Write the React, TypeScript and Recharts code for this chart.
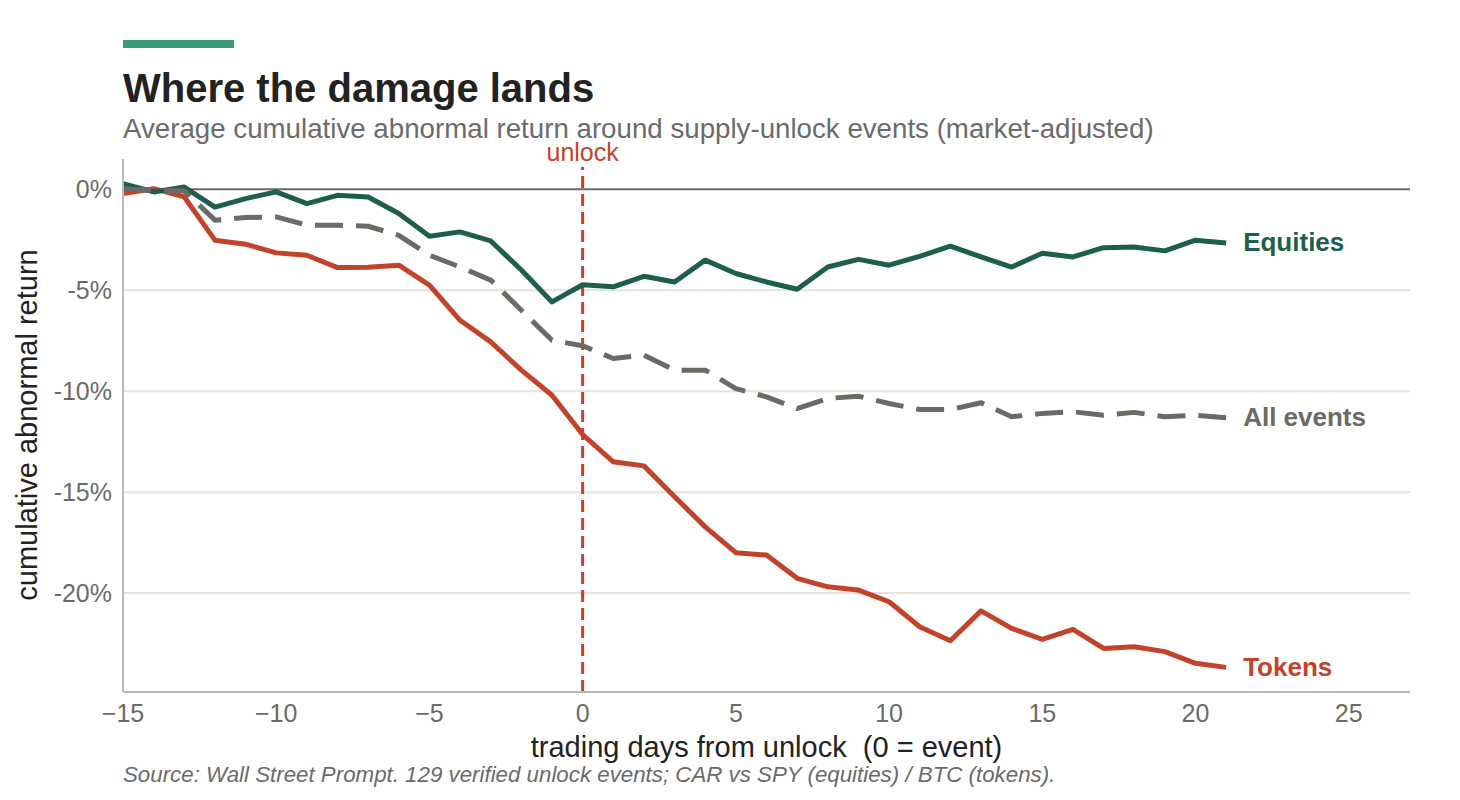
import { LineChart, Line, XAxis, YAxis, ReferenceLine, LabelList } from 'recharts'

const days = [
  -15, -14, -13, -12, -11, -10, -9, -8, -7, -6, -5, -4, -3, -2, -1, 0, 1, 2, 3, 4, 5, 6, 7, 8, 9, 10, 11, 12,
  13, 14, 15, 16, 17, 18, 19, 20, 21,
]

const equities = [
  0.28, -0.13, 0.11, -0.88, -0.46, -0.13, -0.71, -0.3, -0.38, -1.2, -2.33, -2.11, -2.56, -4.0, -5.58, -4.73,
  -4.83, -4.31, -4.59, -3.51, -4.17, -4.59, -4.95, -3.85, -3.47, -3.76, -3.32, -2.82, -3.35, -3.85, -3.17,
  -3.35, -2.89, -2.86, -3.05, -2.52, -2.66,
]

const allEvents = [
  0.03, -0.05, -0.08, -1.53, -1.4, -1.37, -1.78, -1.78, -1.83, -2.28, -3.27, -3.85, -4.5, -5.99, -7.48, -7.75,
  -8.38, -8.22, -8.96, -8.96, -9.87, -10.28, -10.86, -10.36, -10.25, -10.61, -10.91, -10.91, -10.57, -11.27,
  -11.1, -11.02, -11.19, -11.05, -11.27, -11.19, -11.32,
]

const tokens = [
  -0.21, 0.03, -0.38, -2.52, -2.72, -3.15, -3.27, -3.88, -3.86, -3.76, -4.75, -6.49, -7.56, -8.96, -10.2, -12.15,
  -13.5, -13.7, -15.23, -16.72, -18.0, -18.12, -19.27, -19.69, -19.85, -20.43, -21.67, -22.36, -20.88, -21.75,
  -22.29, -21.8, -22.74, -22.66, -22.9, -23.48, -23.68,
]

const xTicks = [-15, -10, -5, 0, 5, 10, 15, 20, 25]
const yTicks = [-20, -15, -10, -5, 0]

const GREEN = '#1e5e4c'
const RED = '#c3432a'
const GRAY = '#6b6a64'
const FONT = '"Liberation Sans", Arial, Helvetica, sans-serif'

const data = days.map((d, i) => ({
  day: d,
  equities: equities[i],
  allEvents: allEvents[i],
  tokens: tokens[i],
}))

const lastIndex = days.length - 1

function endLabel(text: string, color: string) {
  return (props: any) => {
    if (props.index !== lastIndex) return null
    return (
      <text
        x={Number(props.x) + 17}
        y={Number(props.y) - 1}
        dy="0.36em"
        fill={color}
        fontSize={26}
        fontWeight={700}
        fontFamily={FONT}
      >
        {text}
      </text>
    )
  }
}

// label sits above the dashed line; a small white patch keeps the line from running through it
function UnlockLabel(props: any) {
  const vb = props.viewBox || {}
  return (
    <g>
      <rect x={vb.x - 4} y={vb.y - 2} width={8} height={10} fill="#fff" />
      <text x={vb.x} y={vb.y + 2} textAnchor="middle" fill={RED} fontSize={25} fontFamily={FONT}>
        unlock
      </text>
    </g>
  )
}

export default function App() {
  return (
    <div
      style={{
        position: 'absolute',
        left: 0,
        top: 0,
        width: 1460,
        height: 800,
        background: '#fff',
        fontFamily: FONT,
      }}
    >
      <div style={{ position: 'absolute', left: 123, top: 40, width: 111, height: 8, background: '#3a9a7e' }} />
      <div
        style={{
          position: 'absolute',
          left: 123,
          top: 68,
          fontSize: 40,
          lineHeight: 1,
          fontWeight: 700,
          color: '#222',
          whiteSpace: 'nowrap',
        }}
      >
        Where the damage lands
      </div>
      <div
        style={{
          position: 'absolute',
          left: 123,
          top: 115,
          fontSize: 27.7,
          lineHeight: 1,
          color: '#6b6b6b',
          whiteSpace: 'nowrap',
        }}
      >
        Average cumulative abnormal return around supply-unlock events (market-adjusted)
      </div>

      <LineChart
        width={1460}
        height={800}
        data={data}
        margin={{ top: 159, right: 50, bottom: 68, left: 63 }}
        style={{ position: 'absolute', left: 0, top: 0 }}
      >
        <XAxis
          dataKey="day"
          type="number"
          domain={[-15, 27]}
          ticks={xTicks}
          allowDataOverflow
          height={40}
          tickLine={false}
          tickSize={6}
          tickMargin={6}
          axisLine={{ stroke: '#bdb9b2', strokeWidth: 2 }}
          tick={{ fontSize: 25, fill: '#6b6b66', fontFamily: FONT }}
          tickFormatter={(v: number) => String(v).replace('-', '\u2212')}
        />
        <YAxis
          type="number"
          domain={[-24.9, 1.5]}
          ticks={yTicks}
          allowDataOverflow
          width={60}
          tickLine={false}
          tickSize={5}
          tickMargin={6}
          axisLine={{ stroke: '#bdb9b2', strokeWidth: 2 }}
          tick={{ fontSize: 25, fill: '#6b6b66', fontFamily: FONT }}
          tickFormatter={(v: number) => `${v}%`}
        />
        {yTicks
          .filter((t) => t !== 0)
          .map((t) => (
            <ReferenceLine key={t} y={t} stroke="#e6e3db" strokeWidth={2} />
          ))}
        <ReferenceLine y={0} stroke="#6b6b6b" strokeWidth={2} />
        <ReferenceLine
          x={0}
          stroke={RED}
          strokeWidth={3}
          strokeDasharray="12 6"
          label={<UnlockLabel />}
        />
        <Line
          type="linear"
          dataKey="tokens"
          stroke={RED}
          strokeWidth={5}
          strokeLinejoin="round"
          dot={false}
          isAnimationActive={false}
        >
          <LabelList dataKey="tokens" content={endLabel('Tokens', RED)} />
        </Line>
        <Line
          type="linear"
          dataKey="equities"
          stroke={GREEN}
          strokeWidth={5}
          strokeLinejoin="round"
          dot={false}
          isAnimationActive={false}
        >
          <LabelList dataKey="equities" content={endLabel('Equities', GREEN)} />
        </Line>
        <Line
          type="linear"
          dataKey="allEvents"
          stroke={GRAY}
          strokeWidth={5}
          strokeDasharray="28 13"
          strokeLinejoin="round"
          dot={false}
          isAnimationActive={false}
        >
          <LabelList dataKey="allEvents" content={endLabel('All events', GRAY)} />
        </Line>
      </LineChart>

      <div
        style={{
          position: 'absolute',
          left: 0,
          top: 425,
          width: 0,
          height: 0,
        }}
      >
        <div
          style={{
            position: 'absolute',
            left: 27,
            top: 0,
            transform: 'translate(-50%, -50%) rotate(-90deg)',
            fontSize: 29,
            lineHeight: 1,
            color: '#222',
            whiteSpace: 'nowrap',
          }}
        >
          cumulative abnormal return
        </div>
      </div>
      <div
        style={{
          position: 'absolute',
          left: 123,
          width: 1287,
          top: 733,
          textAlign: 'center',
          fontSize: 29,
          lineHeight: 1,
          color: '#222',
          whiteSpace: 'pre',
        }}
      >
        {'trading days from unlock  (0 = event)'}
      </div>
      <div
        style={{
          position: 'absolute',
          left: 123,
          top: 764,
          fontSize: 22.3,
          lineHeight: 1,
          fontStyle: 'italic',
          color: '#6b6b6b',
          whiteSpace: 'nowrap',
        }}
      >
        Source: Wall Street Prompt. 129 verified unlock events; CAR vs SPY (equities) / BTC (tokens).
      </div>
    </div>
  )
}
